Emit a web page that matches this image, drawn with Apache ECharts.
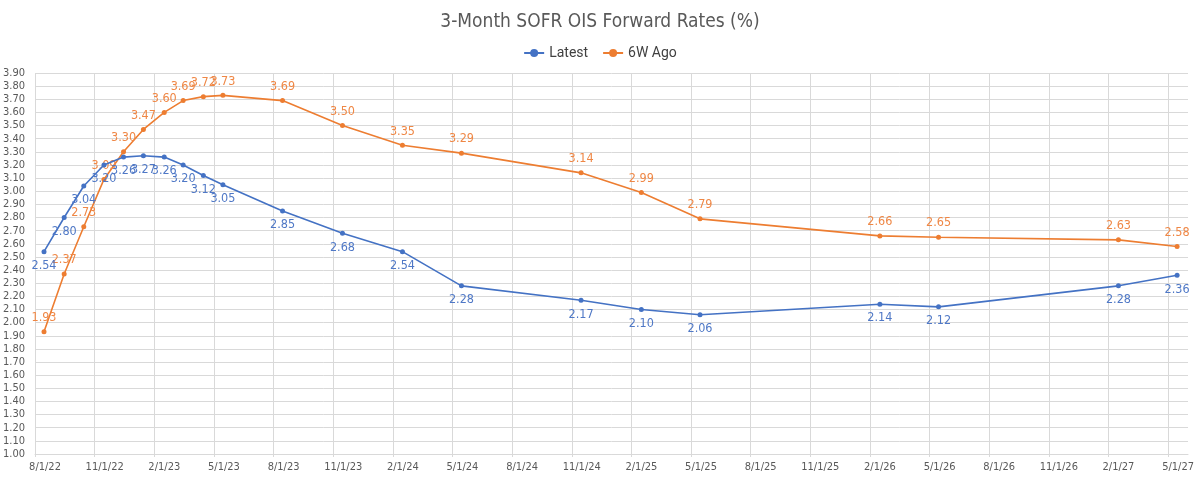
<!DOCTYPE html>
<html>
<head>
<meta charset="utf-8">
<script src="https://cdn.jsdelivr.net/npm/echarts@6/dist/echarts.min.js"></script>
<style>
html,body{margin:0;padding:0;background:#fff;}
#c{width:1200px;height:478px;}
</style>
</head>
<body>
<div id="c"></div>
<script>
const dates = ['2022-08-15','2022-09-15','2022-10-15','2022-11-15','2022-12-15','2023-01-15','2023-02-15','2023-03-15','2023-04-15','2023-05-15','2023-08-15','2023-11-15','2024-02-15','2024-05-15','2024-11-15','2025-02-15','2025-05-15','2026-02-15','2026-05-15','2027-02-15','2027-05-15'];
const latest = [2.54,2.80,3.04,3.20,3.26,3.27,3.26,3.20,3.12,3.05,2.85,2.68,2.54,2.28,2.17,2.10,2.06,2.14,2.12,2.28,2.36];
const sixWeeksAgo = [1.93,2.37,2.73,3.09,3.30,3.47,3.60,3.69,3.72,3.73,3.69,3.50,3.35,3.29,3.14,2.99,2.79,2.66,2.65,2.63,2.58];
const xTickLabels = ['8/1/22','11/1/22','2/1/23','5/1/23','8/1/23','11/1/23','2/1/24','5/1/24','8/1/24','11/1/24','2/1/25','5/1/25','8/1/25','11/1/25','2/1/26','5/1/26','8/1/26','11/1/26','2/1/27','5/1/27'];
const seriesNames = ['Latest','6W Ago'];

// months elapsed since 2022-08-01 (axis origin)
function monthsSinceStart(s){
  const [y,m,d] = s.split('-').map(Number);
  const dim = new Date(Date.UTC(y, m, 0)).getUTCDate();
  return (y-2022)*12 + (m-8) + (d-1)/dim;
}
const xs = dates.map(monthsSinceStart);

const narrow = "'Liberation Sans Narrow','DejaVu Sans Condensed',Roboto,sans-serif";
const grid = '#d9d9d9';
const blue = '#4472C4', orange = '#ED7D31';

const chart = echarts.init(document.getElementById('c'), null, {renderer:'canvas'});
chart.setOption({
  animation:false,
  backgroundColor:'#fff',
  title:{
    text:'3-Month SOFR OIS Forward Rates (%)',
    left:'center', top:8,
    textStyle:{fontFamily:narrow, fontSize:19, fontWeight:'normal', color:'#595959'}
  },
  legend:{
    top:41, left:'center',
    itemWidth:20, itemHeight:10, itemGap:14,
    textStyle:{fontFamily:'Roboto', fontSize:14, color:'#404040'},
    data:seriesNames
  },
  grid:{left:33, right:12, top:73, bottom:24, containLabel:false},
  xAxis:{
    type:'value', min:0, max:58, interval:3,
    axisLine:{show:true, lineStyle:{color:grid}},
    axisTick:{show:true, length:3, lineStyle:{color:grid}},
    splitLine:{show:true, showMaxLine:false, lineStyle:{color:grid, width:1}},
    axisLabel:{
      fontFamily:narrow, fontSize:11, color:'#595959', margin:8,
      padding:[0,0,0,20],
      showMaxLabel:false,
      formatter:function(v){ return (v%3===0) ? (xTickLabels[v/3]||'') : ''; }
    }
  },
  yAxis:{
    type:'value', min:1, max:3.9, interval:0.1,
    axisLine:{show:false}, axisTick:{show:false},
    splitLine:{show:true, lineStyle:{color:grid, width:1}},
    axisLabel:{fontFamily:narrow, fontSize:11, color:'#595959', margin:10,
      formatter:function(v){ return v.toFixed(2); }}
  },
  series:[
    {
      name:seriesNames[0], type:'line',
      data:xs.map((x,i)=>[x, latest[i]]),
      symbol:'circle', symbolSize:5,
      lineStyle:{color:blue, width:1.6}, itemStyle:{color:blue},
      label:{show:true, position:'bottom', distance:5, color:'#4f78c6', fontFamily:narrow, fontSize:12.5,
        formatter:p=>p.value[1].toFixed(2)},
      z:3
    },
    {
      name:seriesNames[1], type:'line',
      data:xs.map((x,i)=>[x, sixWeeksAgo[i]]),
      symbol:'circle', symbolSize:5,
      lineStyle:{color:orange, width:1.6}, itemStyle:{color:orange},
      label:{show:true, position:'top', distance:5, color:'#ef8745', fontFamily:narrow, fontSize:12.5,
        formatter:p=>p.value[1].toFixed(2)},
      z:2
    }
  ]
});
</script>
</body>
</html>
